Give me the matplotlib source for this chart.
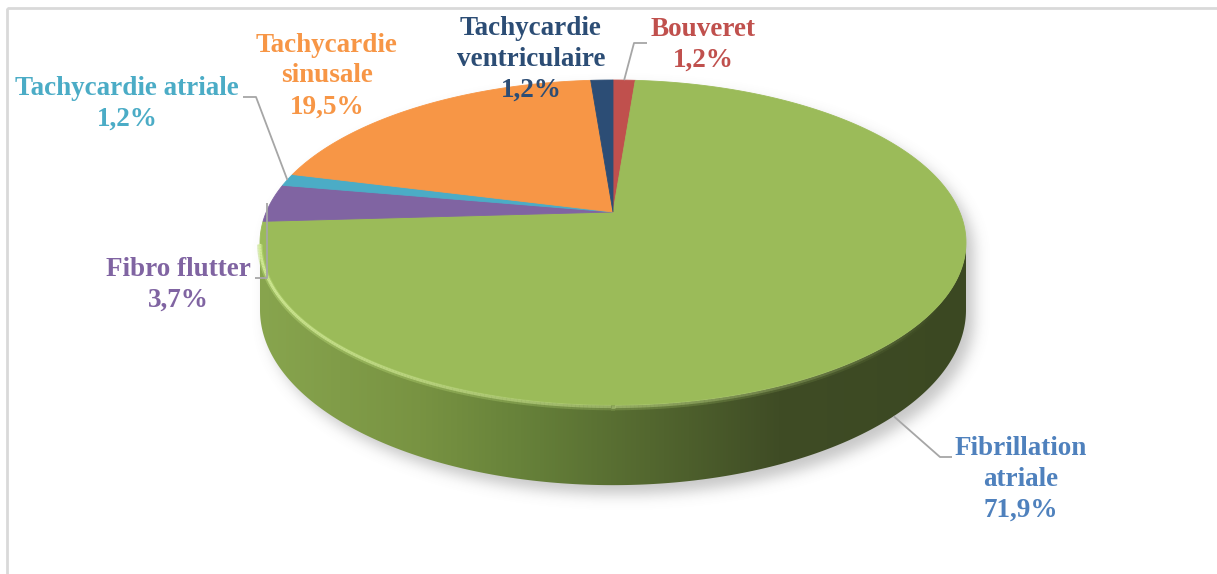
import numpy as np
import matplotlib
matplotlib.use('Agg')
import matplotlib.pyplot as plt
from matplotlib.patches import Polygon, Rectangle
from matplotlib.colors import LinearSegmentedColormap, to_rgb
from matplotlib.collections import LineCollection
from matplotlib.path import Path

# ---------------- data ----------------
categories = ['Bouveret', 'Fibrillation\natriale', 'Fibro flutter',
              'Tachycardie atriale', 'Tachycardie\nsinusale', 'Tachycardie\nventriculaire']
values = [1.2, 71.9, 3.7, 1.2, 19.5, 1.2]
pct_labels = ['1,2%', '71,9%', '3,7%', '1,2%', '19,5%', '1,2%']
slice_colors = ['#c0504d', '#9bbb59', '#8064a2', '#4bacc6', '#f79646', '#2c4d75']
text_colors = ['#c0504d', '#4f81bd', '#8064a2', '#4bacc6', '#f79646', '#2c4d75']

# ---------------- layout / styles ----------------
W, H = 1217, 574
CX, CY = 613, 212          # pie centre (pixels)
A, B = 346.7, 156.8        # radii in the pie plane
K = 0.188                  # perspective strength
D = 65.0                   # thickness

# label block centres and leader line label-ends (pixels)
label_pos = [(703, 45), (1021, 479), (178, 285), (127, 104), (327, 76), (531, 59)]
leader = {
    0: [(647, 43), (634, 43)],
    1: [(952, 457), (940, 457)],
    2: [(255, 278), (267, 278)],
    3: [(243, 97), (256, 97)],
}


def proj(theta, depth=0.0):
    u, v = np.cos(theta), np.sin(theta)
    den = 1 + K * v
    x = CX + A * u / den
    y = CY - B * v / den + D * depth / den
    return np.column_stack([np.atleast_1d(x), np.atleast_1d(y)])


fig = plt.figure(figsize=(W / 100, H / 100), dpi=100)
ax = fig.add_axes([0, 0, 1, 1])
ax.set_xlim(0, W)
ax.set_ylim(H, 0)
ax.axis('off')

vals = np.array(values, dtype=float)
frac = vals / vals.sum()
cum = np.concatenate([[0], np.cumsum(frac)])
# start at 12 o'clock, clockwise
th_start = np.pi / 2 - 2 * np.pi * cum[:-1]
th_end = np.pi / 2 - 2 * np.pi * cum[1:]
th_mid = (th_start + th_end) / 2

# visible side wall range
t_left = np.pi + np.arcsin(K)
t_right = 2 * np.pi - np.arcsin(K)
tt = np.linspace(t_left, t_right, 300)
top_front = proj(tt, 0)
bot_front = proj(tt, 1)
wall_poly = np.vstack([top_front, bot_front[::-1]])

# ---------------- soft shadow ----------------
full = np.linspace(0, 2 * np.pi, 400)
yy, xx = np.mgrid[0:H, 0:W]
pts = np.column_stack([xx.ravel() + 0.5, yy.ravel() + 0.5])
mask = np.zeros(H * W)
for poly in [proj(full, 0), wall_poly, proj(full, 1)]:
    shifted = poly + np.array([8, 9])
    mask = np.maximum(mask, Path(shifted).contains_points(pts).astype(float))
mask = mask.reshape(H, W)
sig = 7
kx = np.arange(-3 * sig, 3 * sig + 1)
kern = np.exp(-kx ** 2 / (2 * sig ** 2))
kern /= kern.sum()
blur = np.apply_along_axis(lambda r: np.convolve(r, kern, mode='same'), 1, mask)
blur = np.apply_along_axis(lambda c: np.convolve(c, kern, mode='same'), 0, blur)
rgba = np.zeros((H, W, 4))
rgba[..., :3] = 0.45
rgba[..., 3] = blur * 0.4
ax.imshow(rgba, extent=(0, W, H, 0), zorder=1, interpolation='bilinear')

# ---------------- side wall with gradient ----------------
grad_stops = [(258, '#88a54e'), (420, '#789342'), (520, '#67823a'),
              (650, '#53672f'), (780, '#3f4c25'), (975, '#3b4822')]
x0, x1 = grad_stops[0][0], grad_stops[-1][0]
cmap = LinearSegmentedColormap.from_list(
    'wall', [((p - x0) / (x1 - x0), c) for p, c in grad_stops])
grad = np.linspace(0, 1, 512)[None, :]
wall_patch = Polygon(wall_poly, closed=True, facecolor='none', edgecolor='none', zorder=2)
ax.add_patch(wall_patch)
im = ax.imshow(grad, cmap=cmap, extent=(x0, x1, 540, 200), aspect='auto', zorder=2)
im.set_clip_path(wall_patch)

# ---------------- top face slices ----------------
for i in range(len(vals)):
    t = np.linspace(th_start[i], th_end[i], max(4, int(abs(th_end[i] - th_start[i]) * 80)))
    edge = proj(t, 0)
    poly = np.vstack([[CX, CY], edge])
    ax.add_patch(Polygon(poly, closed=True, facecolor=slice_colors[i],
                         edgecolor=slice_colors[i], linewidth=0.6, zorder=3))

# ---------------- bevel highlight on front rim ----------------
pos_all = np.linspace(0, 1, len(tt) - 1)
for depth, lw, col, amax in [(0.03, 4.0, '#b9d978', 0.55), (0.02, 2.0, '#d6ee9a', 0.9)]:
    hl = proj(tt, depth)
    segs = np.stack([hl[:-1], hl[1:]], axis=1)
    alphas = np.clip(amax * (1.0 - 1.15 * pos_all), 0, 1)
    base = np.array(to_rgb(col))
    cols = np.column_stack([np.tile(base, (len(segs), 1)), alphas])
    ax.add_collection(LineCollection(segs, colors=cols, linewidths=lw, zorder=4))

# ---------------- leader lines ----------------
for i, pts_l in leader.items():
    if i == 1:
        anchor = proj(th_mid[i], 1)[0]
    elif i == 2:
        a = proj(th_mid[i], 0)[0]
        anchor = np.array([pts_l[1][0], a[1]])
    else:
        anchor = proj(th_mid[i], 0)[0]
    xs = [pts_l[0][0], pts_l[1][0], anchor[0]]
    ys = [pts_l[0][1], pts_l[1][1], anchor[1]]
    ax.plot(xs, ys, color='#a6a6a6', linewidth=1.3, zorder=5, solid_capstyle='butt')

# ---------------- labels ----------------
for i in range(len(vals)):
    ax.text(label_pos[i][0], label_pos[i][1], categories[i] + '\n' + pct_labels[i],
            ha='center', va='center', multialignment='center',
            fontsize=19.5, fontweight='bold', family='Liberation Serif',
            color=text_colors[i], linespacing=1.3, zorder=6)

# ---------------- frame ----------------
ax.add_patch(Rectangle((7, 7.5), W + 20, H + 20, facecolor='none',
                       edgecolor='#d9d9d9', linewidth=2, zorder=0))

fig.savefig('out.png', dpi=100)
